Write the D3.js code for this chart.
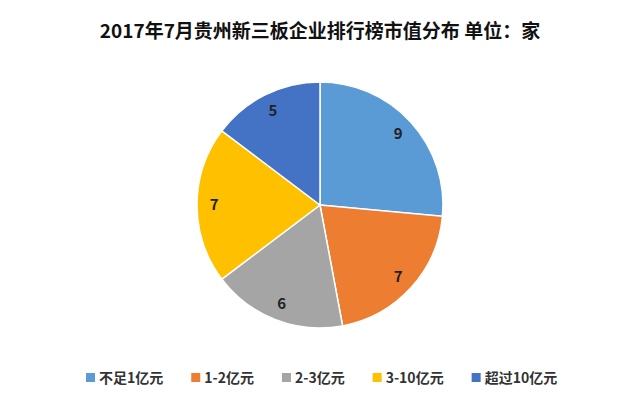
<!DOCTYPE html>
<html><head><meta charset="utf-8">
<script src="https://cdn.jsdelivr.net/npm/d3@7/dist/d3.min.js"></script>
<style>body{margin:0;background:#fff}</style>
</head><body>
<svg id="chart" width="640" height="400"></svg>
<script>
var categories = ["不足1亿元", "1-2亿元", "2-3亿元", "3-10亿元", "超过10亿元"];
var values = [9, 7, 6, 7, 5];
var colors = ["#5B9BD5", "#ED7D31", "#A5A5A5", "#FFC000", "#4472C4"];

var svg = d3.select("#chart");
var font = "'Noto Sans CJK SC', sans-serif";

svg.append("text")
    .attr("x", 320).attr("y", 38)
    .attr("text-anchor", "middle")
    .style("font-family", font).style("font-weight", "bold").style("font-size", "19px")
    .attr("fill", "#111")
    .text("2017年7月贵州新三板企业排行榜市值分布 单位：家");

var cx = 320, cy = 205, r = 123;
var pie = d3.pie().sort(null).value(function(d) { return d; });
var arc = d3.arc().innerRadius(0).outerRadius(r);
var labelArc = d3.arc().innerRadius(r * 0.86).outerRadius(r * 0.86);

var g = svg.append("g").attr("transform", "translate(" + cx + "," + cy + ")");
var arcs = pie(values);

g.selectAll("path").data(arcs).enter().append("path")
    .attr("d", arc)
    .attr("fill", function(d, i) { return colors[i]; })
    .attr("stroke", "#fff").attr("stroke-width", 1.5);

g.selectAll("text.lbl").data(arcs).enter().append("text")
    .attr("class", "lbl")
    .attr("transform", function(d) { return "translate(" + labelArc.centroid(d) + ")"; })
    .attr("text-anchor", "middle").attr("dy", "0.35em")
    .style("font-family", font).style("font-weight", "bold").style("font-size", "15px")
    .attr("fill", "#222")
    .text(function(d) { return d.data; });

// legend
var legend = svg.append("g").attr("transform", "translate(0,378)");
var x = 86;
categories.forEach(function(c, i) {
    var item = legend.append("g").attr("transform", "translate(" + x + ",0)");
    item.append("rect").attr("x", 0).attr("y", -5).attr("width", 9).attr("height", 9).attr("fill", colors[i]);
    var t = item.append("text").attr("x", 13).attr("dy", "0.35em")
        .style("font-family", font).style("font-weight", "bold").style("font-size", "14px")
        .attr("fill", "#333").text(c);
    x += 13 + t.node().getComputedTextLength() + 28;
});
</script>
</body></html>
